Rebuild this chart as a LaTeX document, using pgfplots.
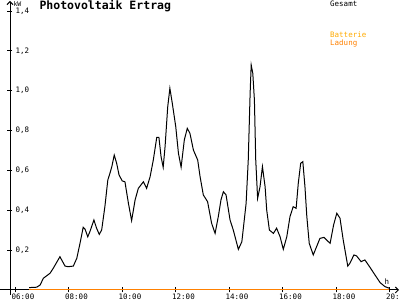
\documentclass[border=0pt]{standalone}
\usepackage{fontspec}
\setmainfont{DejaVu Sans Mono}
\setmonofont{DejaVu Sans Mono}
\usepackage{pgfplots}
\pgfplotsset{compat=1.18}
\usetikzlibrary{arrows.meta}
\definecolor{ladung}{RGB}{255,128,0}
\definecolor{batterie}{RGB}{255,170,0}
\begin{document}
\begin{tikzpicture}
% axis lines (drawn first so the data lie on top)
\draw[line width=1pt,-{Straight Barb[length=3pt,width=6pt]}] (0pt,10pt) -- (399pt,10pt);
\draw[line width=1pt,-{Straight Barb[length=3pt,width=6pt]}] (10pt,5pt) -- (10pt,299pt);
\begin{axis}[
  at={(10pt,10pt)}, anchor=south west,
  scale only axis, width=388pt, height=288pt,
  xmin=5.813, xmax=20.318, ymin=0, ymax=1.445,
  axis lines=left, axis line style={draw=none},
  tick align=center, major tick length=5pt,
  tick style={black, line width=0.8pt},
  xtick={6,8,10,12,14,16,18,20},
  xticklabels={06:00,08:00,10:00,12:00,14:00,16:00,18:00,20:00},
  ytick={0.2,0.4,0.6,0.8,1.0,1.2,1.4},
  yticklabels={{0,2},{0,4},{0,6},{0,8},{1,0},{1,2},{1,4}},
  ticklabel style={font=\fontsize{7.5}{8}\selectfont\ttfamily, inner sep=0pt},
  xticklabel style={anchor=north west, xshift=-3.5pt, yshift=-1pt},
  yticklabel style={anchor=west, xshift=8pt},
  clip=false,
]
\addplot[ladung, line width=1pt] coordinates {(6.53,0) (19.99,0)};
\addplot[black, line width=1pt] coordinates {
(6.53,0.012) (6.81,0.014) (6.94,0.025) (7.06,0.059) (7.31,0.084) (7.43,0.109) (7.68,0.167) (7.87,0.120) (7.99,0.117) (8.18,0.120) (8.31,0.159) (8.43,0.234) (8.55,0.315) (8.62,0.305) (8.72,0.267) (8.80,0.293) (8.95,0.351) (9.05,0.310) (9.15,0.279) (9.24,0.301) (9.36,0.418) (9.47,0.552) (9.55,0.586) (9.62,0.619) (9.71,0.677) (9.80,0.636) (9.89,0.577) (10.01,0.547) (10.11,0.543) (10.24,0.435) (10.36,0.348) (10.49,0.452) (10.61,0.510) (10.80,0.543) (10.92,0.510) (11.05,0.568) (11.17,0.652) (11.30,0.766) (11.38,0.766) (11.46,0.669) (11.54,0.616) (11.61,0.719) (11.71,0.920) (11.79,1.012) (11.88,0.937) (12.01,0.819) (12.11,0.686) (12.21,0.616) (12.33,0.753) (12.44,0.811) (12.54,0.786) (12.67,0.702) (12.83,0.652) (12.92,0.568) (13.04,0.477) (13.20,0.443) (13.35,0.335) (13.48,0.284) (13.60,0.368) (13.70,0.452) (13.79,0.493) (13.89,0.477) (14.04,0.351) (14.16,0.301) (14.35,0.204) (14.48,0.242) (14.64,0.435) (14.72,0.652) (14.79,0.987) (14.83,1.129) (14.89,1.087) (14.95,0.953) (15.00,0.652) (15.07,0.460) (15.16,0.518) (15.25,0.619) (15.35,0.518) (15.41,0.401) (15.51,0.301) (15.66,0.284) (15.78,0.310) (15.91,0.267) (16.03,0.204) (16.16,0.267) (16.28,0.368) (16.40,0.418) (16.51,0.410) (16.59,0.535) (16.68,0.636) (16.76,0.644) (16.84,0.518) (16.91,0.368) (17.00,0.234) (17.15,0.176) (17.40,0.259) (17.55,0.264) (17.78,0.234) (17.91,0.326) (18.03,0.385) (18.15,0.360) (18.27,0.251) (18.44,0.120) (18.52,0.134) (18.67,0.176) (18.77,0.171) (18.94,0.142) (19.08,0.151) (19.27,0.114) (19.46,0.075) (19.65,0.037) (19.83,0.017) (19.99,0.009)
};
\end{axis}
% texts
\node[anchor=base west, inner sep=0pt, font=\fontsize{11.5}{12}\selectfont\bfseries\ttfamily] at (39.3pt,290pt) {Photovoltaik Ertrag};
\node[anchor=base west, inner sep=0pt, font=\fontsize{6.5}{7}\selectfont\ttfamily] at (13.3pt,293.3pt) {kW};
\node[anchor=base west, inner sep=0pt, font=\fontsize{7.5}{8}\selectfont\ttfamily] at (384.5pt,15pt) {h};
\node[anchor=base west, inner sep=0pt, font=\fontsize{7.5}{8}\selectfont\ttfamily] at (330pt,293pt) {Gesamt};
\node[anchor=base west, inner sep=0pt, font=\fontsize{7.5}{8}\selectfont\ttfamily, text=batterie] at (330pt,262pt) {Batterie};
\node[anchor=base west, inner sep=0pt, font=\fontsize{7.5}{8}\selectfont\ttfamily, text=ladung] at (330pt,254.5pt) {Ladung};
\pgfresetboundingbox
\path[use as bounding box] (0pt,0pt) rectangle (400pt,300pt);
\end{tikzpicture}
\end{document}
